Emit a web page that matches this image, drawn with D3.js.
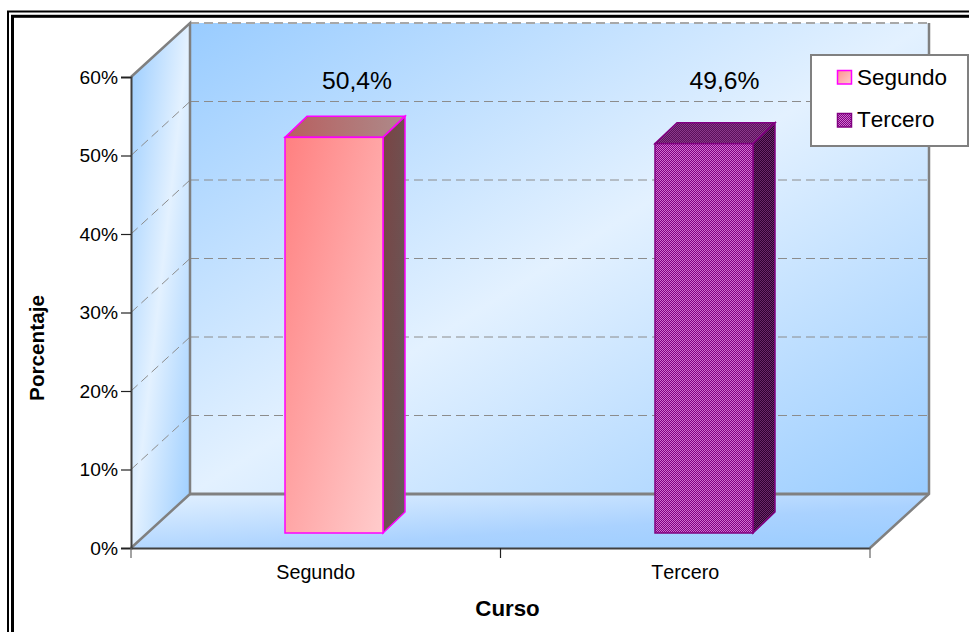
<!DOCTYPE html>
<html>
<head>
<meta charset="utf-8">
<script src="https://cdn.jsdelivr.net/npm/d3@7/dist/d3.min.js"></script>
<style>
html,body{margin:0;padding:0;background:#fff;overflow:hidden}
text{font-family:"Liberation Sans",Arial,sans-serif;fill:#000;font-kerning:none}
</style>
</head>
<body>
<svg id="chart" width="969" height="632"></svg>
<script>
const categories = ["Segundo", "Tercero"];
const percentages = [50.4, 49.6];
const valueLabels = ["50,4%", "49,6%"];
const yTicks = [0, 10, 20, 30, 40, 50, 60];

const svg = d3.select("#chart");
const defs = svg.append("defs");

// Plot box: front plane plus the shift to the back wall
const front = {left: 131, right: 870, top: 77, bottom: 548};
const wall = {dx: 59, dy: -54};
const barShift = {dx: 18.5, dy: -15};
const barDepth = {dx: 22, dy: -21};

const x = d3.scaleBand().domain(categories).range([front.left, front.right]);
const y = d3.scaleLinear().domain([0, 60]).range([front.bottom, front.top]);
const barWidth = 98;

const line = pts => "M" + pts.map(p => p.join(",")).join("L") + "Z";

function gradient(id, x1, y1, x2, y2, stops) {
  const g = defs.append("linearGradient").attr("id", id)
    .attr("x1", x1).attr("y1", y1).attr("x2", x2).attr("y2", y2);
  stops.forEach(([o, c]) => g.append("stop").attr("offset", o).attr("stop-color", c));
}
function checker(id, a, b) {
  const p = defs.append("pattern").attr("id", id).attr("width", 2).attr("height", 2)
    .attr("patternUnits", "userSpaceOnUse");
  p.append("rect").attr("width", 2).attr("height", 2).attr("fill", a);
  p.append("rect").attr("width", 1).attr("height", 1).attr("fill", b);
  p.append("rect").attr("x", 1).attr("y", 1).attr("width", 1).attr("height", 1).attr("fill", b);
}
const wallStops = [[0, "#99ccff"], [0.5, "#e3f1ff"], [1, "#99ccff"]];
gradient("backWall", 0, 0, 1, 1, wallStops);
gradient("sideWall", 0, 0, 1, 1, wallStops);
gradient("floor", 0, 0, 1, 1, [[0, "#e3f1ff"], [0.6, "#aad2ff"], [1, "#99ccff"]]);
gradient("segFront", 0, 0, 1, 1, [[0, "#ff8080"], [1, "#ffcccc"]]);
gradient("segSide", 0, 0, 1, 1, [[0, "#7a4444"], [1, "#665a5a"]]);
gradient("segTop", 0, 0, 1, 0, [[0, "#b85f5f"], [1, "#ad8a8a"]]);
gradient("legendSeg", 0, 0, 1, 1, [[0, "#ff9090"], [1, "#ffcccc"]]);
checker("terFront", "#800080", "#d070d0");
checker("terSide", "#300030", "#6a2a6a");
checker("terTop", "#5a105a", "#8a3a8a");

// Double frame that runs off the right and bottom edges
svg.append("rect").attr("x", 8).attr("y", 11.5).attr("width", 1000).attr("height", 700)
  .attr("fill", "none").attr("stroke", "#000").attr("stroke-width", 2);
svg.append("rect").attr("x", 12.5).attr("y", 16.3).attr("width", 1000).attr("height", 700)
  .attr("fill", "none").attr("stroke", "#000").attr("stroke-width", 3);

// Walls and floor
const FL = front.left, FR = front.right, FB = front.bottom, FT = front.top;
const BL = FL + wall.dx, BR = FR + wall.dx, BB = FB + wall.dy, BT = FT + wall.dy;
svg.append("path").attr("d", line([[BL, BT], [BR, BT], [BR, BB], [BL, BB]])).attr("fill", "url(#backWall)");
svg.append("path").attr("d", line([[FL, FT], [BL, BT], [BL, BB], [FL, FB]])).attr("fill", "url(#sideWall)");
svg.append("path").attr("d", line([[FL, FB], [BL, BB], [BR, BB], [FR, FB]])).attr("fill", "url(#floor)");

// Gridlines across the back wall and down the side wall
const grid = svg.append("g").attr("stroke", "#8c8c8c").attr("stroke-width", 1)
  .attr("stroke-dasharray", "9,5").attr("fill", "none");
yTicks.filter(t => t > 0 && t < 60).forEach(t => {
  const gy = y(t);
  grid.append("line").attr("x1", BL).attr("x2", BR).attr("y1", gy + wall.dy).attr("y2", gy + wall.dy);
  grid.append("line").attr("x1", FL).attr("x2", BL).attr("y1", gy).attr("y2", gy + wall.dy);
});
// The top edge of the back wall stays a paler, heavier dash
grid.append("line").attr("x1", BL).attr("x2", BR).attr("y1", y(60) + wall.dy).attr("y2", y(60) + wall.dy)
  .attr("stroke", "#a8a8a8").attr("stroke-width", 2);

// Box edges
const edges = svg.append("g").attr("stroke", "#808080").attr("stroke-width", 2.5).attr("fill", "none");
edges.append("path").attr("d", `M${FL},${FT}L${BL},${BT}V${BB}M${BR},${BT}V${BB}L${FR},${FB}M${FL},${FB}L${BL},${BB}`);
edges.append("line").attr("x1", BL).attr("x2", BR).attr("y1", BB).attr("y2", BB).attr("stroke-width", 3);

// Bars, each with a front, a side and a top face
const bars = [
  {front: "url(#segFront)", side: "url(#segSide)", top: "url(#segTop)", stroke: "#ff00ff"},
  {front: "url(#terFront)", side: "url(#terSide)", top: "url(#terTop)", stroke: "#800080"}
];
const barGroup = svg.append("g").selectAll("g").data(categories).join("g");
barGroup.each(function (c, i) {
  const g = d3.select(this);
  const x0 = Math.round(x(c) + x.bandwidth() / 2 + barShift.dx - barWidth / 2);
  const x1 = x0 + barWidth;
  const yb = y(0) + barShift.dy;
  const yt = y(percentages[i]) + barShift.dy;
  const s = bars[i];
  const d = barDepth;
  g.append("path").attr("d", line([[x0, yt], [x0 + d.dx, yt + d.dy], [x1 + d.dx, yt + d.dy], [x1, yt]]))
    .attr("fill", s.top).attr("stroke", s.stroke).attr("stroke-width", 1.5);
  g.append("path").attr("d", line([[x1, yt], [x1 + d.dx, yt + d.dy], [x1 + d.dx, yb + d.dy], [x1, yb]]))
    .attr("fill", s.side).attr("stroke", s.stroke).attr("stroke-width", 1.5);
  g.append("rect").attr("x", x0).attr("y", yt).attr("width", barWidth).attr("height", yb - yt)
    .attr("fill", s.front).attr("stroke", s.stroke).attr("stroke-width", 1.5);
});

// Value labels
svg.append("g").selectAll("text").data(categories).join("text")
  .attr("x", (c, i) => [357, 724.5][i])
  .attr("y", 89)
  .attr("text-anchor", "middle")
  .attr("font-size", 24.7)
  .text((c, i) => valueLabels[i]);

// Axes
const yAxis = d3.axisLeft(y).tickValues(yTicks).tickFormat(d => d + "%").tickSize(10).tickPadding(3);
const gy = svg.append("g").attr("transform", `translate(${front.left},0)`).call(yAxis);
const xAxis = d3.axisBottom(x).tickSize(0).tickPadding(17);
const gx = svg.append("g").attr("transform", `translate(0,${front.bottom})`).call(xAxis);
[gy, gx].forEach(a => {
  a.attr("font-family", null).attr("font-size", null);
  a.selectAll("path.domain").attr("stroke", "#404040").attr("stroke-width", 2);
});
gy.selectAll(".tick line").attr("stroke", "#222").attr("stroke-width", 1.2);
gy.selectAll("text").attr("font-size", 19.2);
gx.selectAll("text").attr("font-size", 19.7);
// Category boundaries carry the ticks on the horizontal axis
svg.append("g").selectAll("line").data([front.left, x(categories[1]), front.right]).join("line")
  .attr("x1", d => d).attr("x2", d => d).attr("y1", front.bottom).attr("y2", front.bottom + 10)
  .attr("stroke", (d, i) => i === 1 ? "#222" : "#666").attr("stroke-width", 1.2);

// Axis titles
svg.append("text").attr("x", 507.5).attr("y", 616).attr("text-anchor", "middle")
  .attr("font-size", 22.3).attr("font-weight", "bold").text("Curso");
svg.append("text").attr("transform", "translate(44,348) rotate(-90)").attr("text-anchor", "middle")
  .attr("font-size", 20.7).attr("font-weight", "bold").text("Porcentaje");

// Legend
const legend = svg.append("g");
legend.append("rect").attr("x", 811).attr("y", 55).attr("width", 157).attr("height", 91)
  .attr("fill", "#fff").attr("stroke", "#808080").attr("stroke-width", 2);
const swatchFills = ["url(#legendSeg)", "url(#terFront)"];
const swatchStrokes = ["#ff00ff", "#800080"];
const item = legend.selectAll("g").data(categories).join("g");
item.append("rect").attr("x", 837.5).attr("y", (c, i) => [70.5, 113.5][i]).attr("width", 14).attr("height", 13.5)
  .attr("fill", (c, i) => swatchFills[i]).attr("stroke", (c, i) => swatchStrokes[i]).attr("stroke-width", 1.5);
item.append("text").attr("x", 857).attr("y", (c, i) => [85, 127][i]).attr("font-size", 22.5).text(c => c);
</script>
</body>
</html>
